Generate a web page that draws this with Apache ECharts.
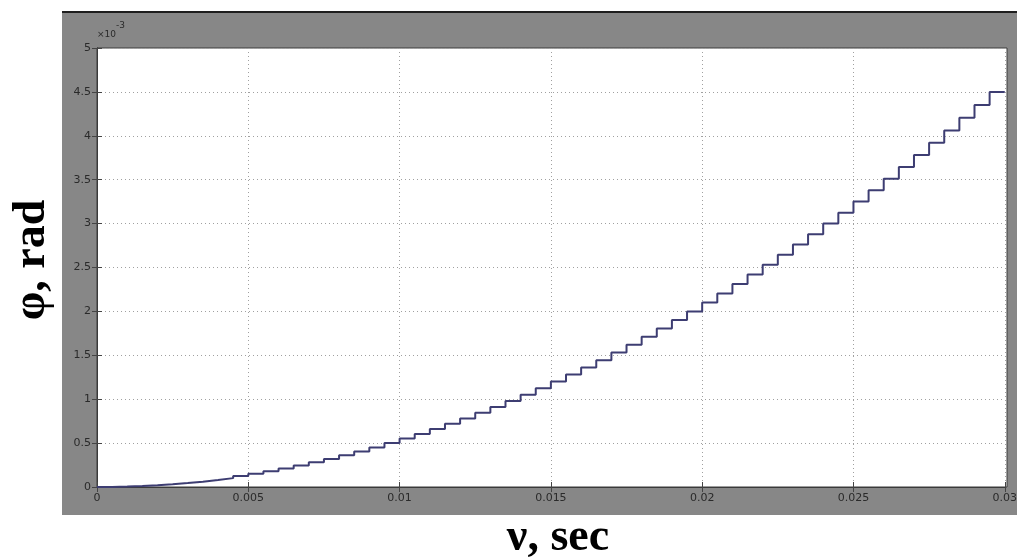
<!DOCTYPE html>
<html>
<head>
<meta charset="utf-8">
<script src="https://cdn.jsdelivr.net/npm/echarts@6/dist/echarts.min.js"></script>
<style>html,body{margin:0;padding:0;background:#fff}#c{width:1020px;height:559px}</style>
</head>
<body>
<div id="c"></div>
<script>
// time samples (s)
const timeSec = [0,0.0005,0.001,0.0015,0.002,0.0025,0.003,0.0035,0.004,0.0045,0.005,0.0055,0.006,0.0065,0.007,0.0075,0.008,0.0085,0.009,0.0095,0.01,0.0105,0.011,0.0115,0.012,0.0125,0.013,0.0135,0.014,0.0145,0.015,0.0155,0.016,0.0165,0.017,0.0175,0.018,0.0185,0.019,0.0195,0.02,0.0205,0.021,0.0215,0.022,0.0225,0.023,0.0235,0.024,0.0245,0.025,0.0255,0.026,0.0265,0.027,0.0275,0.028,0.0285,0.029,0.0295,0.03];
// phi in units of 1e-3 rad, read from the staircase
const phiE3 = [0,0.001,0.005,0.011,0.02,0.031,0.045,0.061,0.08,0.101,0.125,0.151,0.18,0.211,0.245,0.281,0.32,0.361,0.405,0.451,0.5,0.551,0.605,0.661,0.72,0.781,0.845,0.911,0.98,1.051,1.125,1.201,1.28,1.361,1.445,1.531,1.62,1.711,1.805,1.901,2.0,2.101,2.205,2.311,2.42,2.531,2.645,2.761,2.88,3.001,3.125,3.251,3.38,3.511,3.645,3.781,3.92,4.061,4.205,4.351,4.5];
const xTickLabels = ['0','0.005','0.01','0.015','0.02','0.025','0.03'];
const yTickLabels = ['0','0.5','1','1.5','2','2.5','3','3.5','4','4.5','5'];

const chart = echarts.init(document.getElementById('c'), null, {renderer:'canvas'});
const data = timeSec.map((t,i)=>[t, phiE3[i]]);
const tickFont = {fontFamily:'DejaVu Sans', fontSize:11, color:'#2a2a2a'};
const gridLine = {show:true, lineStyle:{color:'#a0a0a0', type:[1,3], width:1}};
chart.setOption({
  backgroundColor:'#ffffff',
  animation:false,
  grid:{left:97, top:48, right:13, bottom:72, show:false},
  graphic:[
    {type:'rect', z:-10, shape:{x:62,y:12,width:955,height:503}, style:{fill:'#878787'}},
    {type:'rect', z:-9, shape:{x:97,y:48,width:910,height:439}, style:{fill:'#ffffff', stroke:'#3a3a3a', lineWidth:1}},
    {type:'line', z:-9, shape:{x1:62,y1:12,x2:1017,y2:12}, style:{stroke:'#1e1e1e', lineWidth:2}},
    {type:'text', z:5, left:97, top:30, style:{text:'×10', font:'9px DejaVu Sans', fill:'#2a2a2a'}},
    {type:'text', z:5, left:116, top:21, style:{text:'-3', font:'9px DejaVu Sans', fill:'#2a2a2a'}},
    {type:'text', z:5, x:32, y:260, rotation:Math.PI/2, style:{text:'φ, rad', font:'bold 46px "Liberation Serif"', fill:'#000', align:'center', verticalAlign:'middle'}},
    {type:'text', z:5, x:558, y:538, style:{text:'ν, sec', font:'bold 46px "Liberation Serif"', fill:'#000', align:'center', verticalAlign:'middle'}}
  ],
  xAxis:[
    {type:'value', min:0, max:0.03, interval:0.005, position:'bottom',
     axisLine:{show:true, lineStyle:{color:'#3a3a3a', width:1}},
     axisTick:{show:true, inside:true, length:5, lineStyle:{color:'#444'}},
     axisLabel:{...tickFont, margin:6, formatter:(v)=>xTickLabels[Math.round(v/0.005)]},
     splitLine:gridLine},
    {type:'value', min:0, max:0.03, interval:0.005, position:'top',
     axisLine:{show:true, lineStyle:{color:'#3a3a3a'}},
     axisTick:{show:true, inside:true, length:5, lineStyle:{color:'#444'}},
     axisLabel:{show:false}, splitLine:{show:false}}
  ],
  yAxis:[
    {type:'value', min:0, max:5, interval:0.5, position:'left',
     axisLine:{show:true, lineStyle:{color:'#3a3a3a', width:1}},
     axisTick:{show:true, inside:true, length:5, lineStyle:{color:'#444'}},
     axisLabel:{...tickFont, margin:6, formatter:(v)=>yTickLabels[Math.round(v/0.5)]},
     splitLine:gridLine},
    {type:'value', min:0, max:5, interval:0.5, position:'right',
     axisLine:{show:true, lineStyle:{color:'#3a3a3a'}},
     axisTick:{show:true, inside:true, length:5, lineStyle:{color:'#444'}},
     axisLabel:{show:false}, splitLine:{show:false}}
  ],
  series:[{
    type:'line', xAxisIndex:0, yAxisIndex:0, data:data, step:'start',
    showSymbol:false, symbol:'none', z:5,
    lineStyle:{color:'#3d3d72', width:2}
  }]
});
</script>
</body>
</html>
